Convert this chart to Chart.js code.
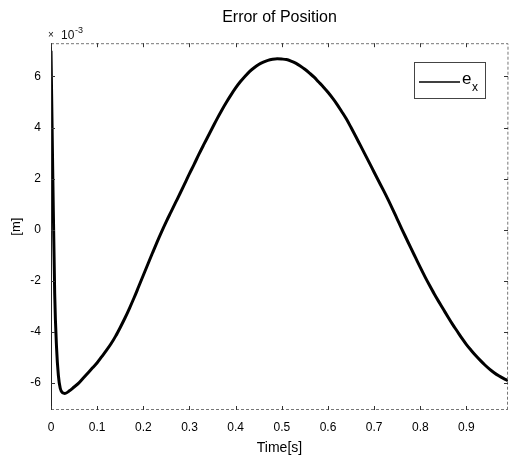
<!DOCTYPE html>
<html>
<head>
<meta charset="utf-8">
<script src="https://cdn.jsdelivr.net/npm/chart.js@4/dist/chart.umd.min.js"></script>
<style>
  html, body { margin: 0; padding: 0; background: #fff; }
  #wrap { width: 512px; height: 457px; }
</style>
</head>
<body>
<div id="wrap"><canvas id="errChart" width="512" height="457"></canvas></div>
<script>
// time [s]
const times = [0, 0.004, 0.008, 0.012, 0.016, 0.02, 0.025, 0.03, 0.04, 0.05, 0.06, 0.07, 0.08, 0.09,
    0.10, 0.11, 0.12, 0.13, 0.14, 0.15, 0.16, 0.17, 0.18, 0.19, 0.20, 0.21, 0.22, 0.23, 0.24,
    0.25, 0.26, 0.27, 0.28, 0.29, 0.30, 0.31, 0.32, 0.33, 0.34, 0.35, 0.36, 0.37, 0.38, 0.39,
    0.40, 0.41, 0.42, 0.43, 0.44, 0.45, 0.46, 0.47, 0.48, 0.49, 0.50, 0.51, 0.52, 0.53, 0.54,
    0.55, 0.56, 0.57, 0.58, 0.59, 0.60, 0.61, 0.62, 0.63, 0.64, 0.65, 0.66, 0.67, 0.68, 0.69,
    0.70, 0.71, 0.72, 0.73, 0.74, 0.75, 0.76, 0.77, 0.78, 0.79, 0.80, 0.81, 0.82, 0.83, 0.84,
    0.85, 0.86, 0.87, 0.88, 0.89, 0.90, 0.91, 0.92, 0.93, 0.94, 0.95, 0.96, 0.97, 0.98, 0.99];

// e_x in units of 1e-3 m
const errX = [7.0, 2.0, -2.5, -4.6, -5.7, -6.2, -6.38, -6.4, -6.3, -6.15, -6.0, -5.8, -5.6, -5.4,
    -5.2, -4.96, -4.72, -4.46, -4.16, -3.82, -3.46, -3.07, -2.66, -2.22, -1.78, -1.34, -0.9, -0.47, -0.06,
    0.33, 0.7, 1.07, 1.44, 1.82, 2.2, 2.56, 2.94, 3.3, 3.65, 4.0, 4.35, 4.68, 4.99, 5.28,
    5.55, 5.79, 6.0, 6.19, 6.34, 6.47, 6.56, 6.63, 6.67, 6.69, 6.68, 6.66, 6.6, 6.52, 6.41,
    6.28, 6.13, 5.97, 5.78, 5.59, 5.38, 5.15, 4.9, 4.62, 4.33, 4.0, 3.66, 3.31, 2.96, 2.61,
    2.25, 1.9, 1.55, 1.19, 0.81, 0.42, 0.03, -0.35, -0.73, -1.1, -1.47, -1.83, -2.17, -2.5, -2.81,
    -3.11, -3.41, -3.7, -3.97, -4.24, -4.49, -4.71, -4.92, -5.11, -5.29, -5.45, -5.59, -5.71, -5.81, -5.9];

const xTicks = [0, 0.1, 0.2, 0.3, 0.4, 0.5, 0.6, 0.7, 0.8, 0.9];
const yTicks = [-6, -4, -2, 0, 2, 4, 6];

const points = times.map((t, i) => ({ x: t, y: errX[i] }));

// MATLAB style frame: inward ticks, exponent label and boxed legend
const matlabFrame = {
    id: "matlabFrame",
    afterDraw(chart) {
        const ctx = chart.ctx;
        const a = chart.chartArea;
        const xs = chart.scales.x;
        const ys = chart.scales.y;
        ctx.save();

        // box
        ctx.strokeStyle = "#222";
        ctx.lineWidth = 1;
        ctx.beginPath();
        ctx.moveTo(a.left + 0.5, a.top);
        ctx.lineTo(a.left + 0.5, a.bottom);
        ctx.stroke();
        ctx.strokeStyle = "#777";
        ctx.setLineDash([3, 2]);
        ctx.beginPath();
        ctx.moveTo(a.left, a.top + 0.5);
        ctx.lineTo(a.right, a.top + 0.5);
        ctx.lineTo(a.right - 0.5, a.bottom);
        ctx.moveTo(a.left, a.bottom - 0.5);
        ctx.lineTo(a.right, a.bottom - 0.5);
        ctx.stroke();
        ctx.setLineDash([]);

        // inward ticks
        ctx.strokeStyle = "#333";
        ctx.beginPath();
        xTicks.forEach(v => {
            const px = Math.round(xs.getPixelForValue(v)) + 0.5;
            ctx.moveTo(px, a.bottom);
            ctx.lineTo(px, a.bottom - 4);
            ctx.moveTo(px, a.top);
            ctx.lineTo(px, a.top + 4);
        });
        yTicks.forEach(v => {
            const py = Math.round(ys.getPixelForValue(v)) + 0.5;
            ctx.moveTo(a.left, py);
            ctx.lineTo(a.left + 4, py);
            ctx.moveTo(a.right, py);
            ctx.lineTo(a.right - 4, py);
        });
        ctx.stroke();

        // x10^-3
        ctx.fillStyle = "#111";
        ctx.textBaseline = "alphabetic";
        ctx.textAlign = "left";
        ctx.font = "10px 'Liberation Sans', Arial, sans-serif";
        ctx.fillText("\u00d7", a.left - 3, a.top - 5);
        ctx.font = "12px 'Liberation Sans', Arial, sans-serif";
        ctx.fillText("10", a.left + 10, a.top - 4);
        ctx.font = "9px 'Liberation Sans', Arial, sans-serif";
        ctx.fillText("-3", a.left + 24, a.top - 10);

        // legend
        const lx = 414, ly = 62, lw = 71, lh = 36;
        ctx.strokeStyle = "#444";
        ctx.lineWidth = 1;
        ctx.strokeRect(lx + 0.5, ly + 0.5, lw, lh);
        ctx.strokeStyle = "#000";
        ctx.lineWidth = 1.5;
        ctx.beginPath();
        ctx.moveTo(lx + 5, ly + 20);
        ctx.lineTo(lx + 46, ly + 20);
        ctx.stroke();
        ctx.fillStyle = "#000";
        ctx.font = "17px 'Liberation Sans', Arial, sans-serif";
        ctx.fillText("e", lx + 48, ly + 22);
        ctx.font = "12px 'Liberation Sans', Arial, sans-serif";
        ctx.fillText("x", lx + 58, ly + 29);

        ctx.restore();
    }
};

new Chart(document.getElementById("errChart").getContext("2d"), {
    type: "line",
    data: {
        datasets: [
            {
                label: "e_x",
                data: points,
                borderColor: "#000",
                borderWidth: 3,
                pointRadius: 0,
                fill: false,
                cubicInterpolationMode: "monotone",
            },
        ],
    },
    options: {
        responsive: false,
        animation: false,
        layout: {
            padding: { top: 8, right: 4, left: 0, bottom: 0 },
        },
        plugins: {
            legend: { display: false },
            tooltip: { enabled: false },
            title: {
                display: true,
                fullSize: false,
                text: "Error of Position",
                color: "#000",
                font: { family: "'Liberation Sans', Arial, sans-serif", size: 16, weight: "normal" },
                padding: { top: 0, bottom: 16 },
            },
        },
        scales: {
            x: {
                type: "linear",
                min: 0,
                max: 0.99,
                afterBuildTicks: (scale) => {
                    scale.ticks = xTicks.map(v => ({ value: v }));
                },
                afterFit: (scale) => {
                    scale.height = 47;
                },
                grid: { display: false, drawTicks: false },
                border: { display: false },
                ticks: {
                    color: "#000",
                    padding: 10,
                    maxRotation: 0,
                    font: { family: "'Liberation Sans', Arial, sans-serif", size: 12 },
                    callback: (v) => (v === 0 ? "0" : v.toFixed(1)),
                },
                title: {
                    display: true,
                    text: "Time[s]",
                    color: "#000",
                    padding: { top: 2, bottom: 0 },
                    font: { family: "'Liberation Sans', Arial, sans-serif", size: 14 },
                },
            },
            y: {
                min: -7.05,
                max: 7.3,
                afterBuildTicks: (scale) => {
                    scale.ticks = yTicks.map(v => ({ value: v }));
                },
                afterFit: (scale) => {
                    scale.width = 51;
                },
                grid: { display: false, drawTicks: false },
                border: { display: false },
                ticks: {
                    color: "#000",
                    padding: 10,
                    font: { family: "'Liberation Sans', Arial, sans-serif", size: 12 },
                },
                title: {
                    display: true,
                    text: "[m]",
                    color: "#000",
                    padding: { top: 9, bottom: 0 },
                    font: { family: "'Liberation Sans', Arial, sans-serif", size: 13 },
                },
            },
        },
    },
    plugins: [matlabFrame],
});
</script>
</body>
</html>
